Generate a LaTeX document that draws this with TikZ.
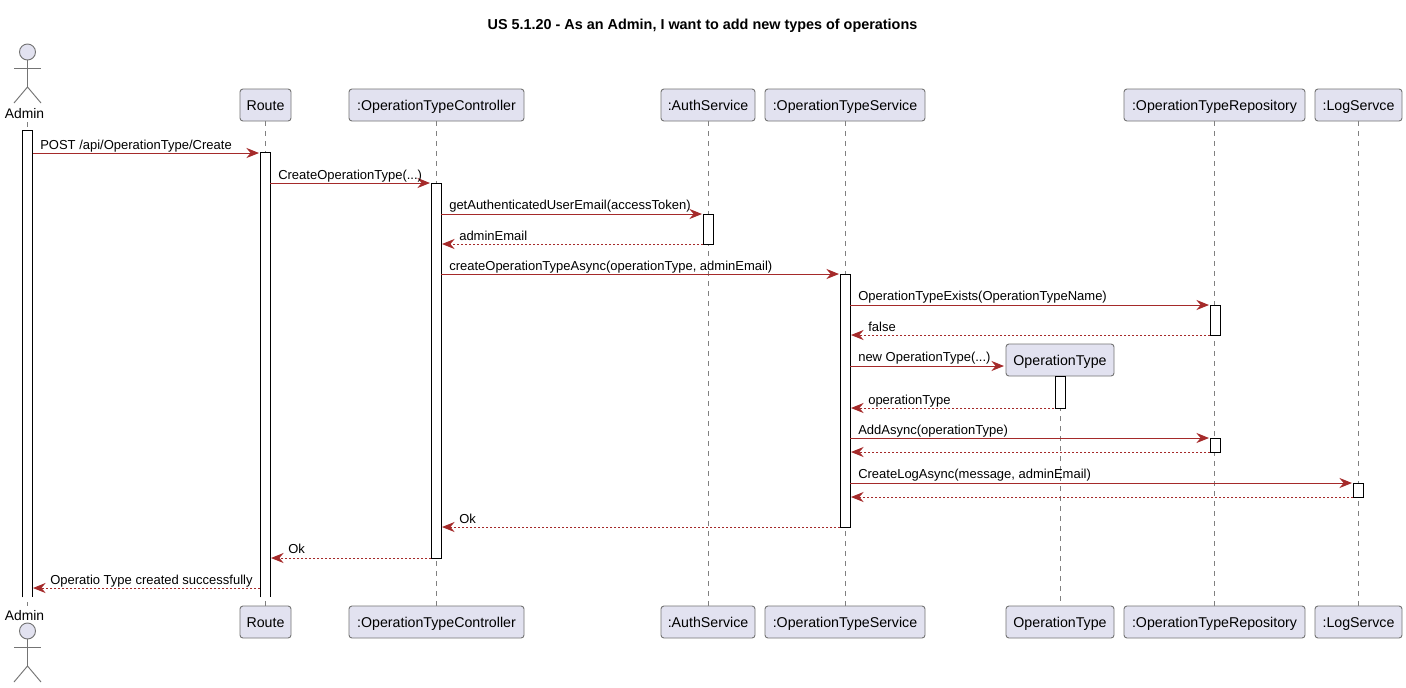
\documentclass[tikz,border=0pt]{standalone}
\usepackage{fontspec}
\setmainfont{Liberation Sans}
\usetikzlibrary{arrows.meta}
\definecolor{pfill}{HTML}{E2E2F0}
\definecolor{pline}{HTML}{181818}
\definecolor{msgcol}{HTML}{A52A2A}
\tikzset{
  x=0.75pt,y=-0.75pt,
  pbox/.style={draw=pline!60,line width=0.7pt,fill=pfill,rounded corners=2.2pt,minimum height=24pt,inner sep=0pt,text height=9.5pt,text depth=2pt,font=\fontsize{10.65pt}{12pt}\selectfont},
  life/.style={draw=pline!55,line width=0.5pt,dash pattern=on 3.75pt off 3.75pt},
  actbox/.style={draw=black,line width=0.7pt,fill=white,inner sep=0pt,minimum width=7.5pt},
  openbox/.style={fill=white,inner sep=0pt,minimum width=7.5pt},
  openedge/.style={draw=black,line width=0.7pt},
  callmsg/.style={draw=msgcol,line width=0.75pt,-{Stealth[length=9.5pt,width=7.6pt,inset=3.2pt,color=msgcol]}},
  retmsg/.style={callmsg,dash pattern=on 1.5pt off 1.5pt},
  msgtext/.style={anchor=base west,inner sep=0pt,font=\fontsize{9.75pt}{11pt}\selectfont,text=black},
  actorpart/.style={draw=pline!60,line width=0.7pt},
  actorhead/.style={actorpart,fill=pfill},
  actorlabel/.style={inner sep=0pt,font=\fontsize{10.4pt}{12pt}\selectfont}
}
% name, x, top y, bottom y, style
\newcommand{\actbar}[5]{\node[#5,minimum height={(#4-#3)*0.75pt}] (#1) at (#2,{(#3+#4)/2}) {};}
% name, from x, to x, y, style
\newcommand{\msgline}[5]{\coordinate (#1a) at (#2,#4);\coordinate (#1b) at (#3,#4);\draw[#5] (#1a) -- (#1b);}
% centre x, head centre y, name
\newcommand{\stickman}[3]{%
  \node[actorhead,circle,minimum size=12pt,inner sep=0pt] (#3h) at (#1,#2) {};
  \coordinate (#3w) at (#1,#2+35);
  \coordinate (#3al) at (#1-13.5,#2+16);
  \coordinate (#3ar) at (#1+13.5,#2+16);
  \coordinate (#3ll) at (#1-13.5,#2+51);
  \coordinate (#3lr) at (#1+13.5,#2+51);
  \draw[actorpart] (#3h.south) -- (#3w);
  \draw[actorpart] (#3al) -- (#3ar);
  \draw[actorpart] (#3ll) -- (#3w) -- (#3lr);
}
\begin{document}
\begin{tikzpicture}
\useasboundingbox[fill=white] (0,0) rectangle (1406,687);
\node[font=\bfseries\fontsize{10.8pt}{12pt}\selectfont,inner sep=0pt] (title) at (702.5,26) {US 5.1.20 - As an Admin, I want to add new types of operations};

% participants, top
\node[pbox,minimum width=38.25pt] (routeT) at (265.5,105) {Route};
\node[pbox,minimum width=131.25pt] (ctrlT) at (436.5,105) {:OperationTypeController};
\node[pbox,minimum width=70.5pt] (authT) at (708,105) {:AuthService};
\node[pbox,minimum width=120pt] (svcT) at (845,105) {:OperationTypeService};
\node[pbox,minimum width=81pt] (typeT) at (1060,360) {OperationType};
\node[pbox,minimum width=135.75pt] (repoT) at (1214.5,105) {:OperationTypeRepository};
\node[pbox,minimum width=65.25pt] (logT) at (1358.5,105) {:LogServce};
% participants, bottom
\node[pbox,minimum width=38.25pt] (routeB) at (265.5,622) {Route};
\node[pbox,minimum width=131.25pt] (ctrlB) at (436.5,622) {:OperationTypeController};
\node[pbox,minimum width=70.5pt] (authB) at (708,622) {:AuthService};
\node[pbox,minimum width=120pt] (svcB) at (845,622) {:OperationTypeService};
\node[pbox,minimum width=81pt] (typeB) at (1060,622) {OperationType};
\node[pbox,minimum width=135.75pt] (repoB) at (1214.5,622) {:OperationTypeRepository};
\node[pbox,minimum width=65.25pt] (logB) at (1358.5,622) {:LogServce};
% actor
\node[actorlabel] (adminT) at (24.5,114) {Admin};
\node[actorlabel] (adminB) at (24.5,616) {Admin};
\stickman{27.5}{52}{ta}
\stickman{27.5}{631}{ba}

% lifelines
\coordinate (adminTop) at (27.5,122);
\coordinate (adminBot) at (27.5,606);
\draw[life] (adminTop) -- (adminBot);
\draw[life] (routeT.south) -- (routeB.north);
\draw[life] (ctrlT.south) -- (ctrlB.north);
\draw[life] (authT.south) -- (authB.north);
\draw[life] (svcT.south) -- (svcB.north);
\draw[life] (typeT.south) -- (typeB.north);
\draw[life] (repoT.south) -- (repoB.north);
\draw[life] (logT.south) -- (logB.north);

% activations
\actbar{aAdmin}{27.5}{131}{597}{openbox}
\draw[openedge] (aAdmin.south west) |- (aAdmin.north east) -- (aAdmin.south east);
\actbar{aRoute}{265.5}{153}{597}{openbox}
\draw[openedge] (aRoute.south west) |- (aRoute.north east) -- (aRoute.south east);
\actbar{aCtrl}{436}{183}{558}{actbox}
\actbar{aAuth}{708}{214}{244}{actbox}
\actbar{aSvc}{845}{274}{527}{actbox}
\actbar{aRepoA}{1215}{305}{335}{actbox}
\actbar{aType}{1060}{376}{408}{actbox}
\actbar{aRepoB}{1215}{438}{452}{actbox}
\actbar{aLog}{1358.5}{483}{497}{actbox}

% messages
\msgline{m1}{33}{259}{153}{callmsg}
\node[msgtext] (t1) at (40,149) {POST /api/OperationType/Create};
\msgline{m2}{270}{430}{183}{callmsg}
\node[msgtext] (t2) at (278,179) {CreateOperationType(...)};
\msgline{m3}{441}{702}{214}{callmsg}
\node[msgtext] (t3) at (449,209) {getAuthenticatedUserEmail(accessToken)};
\msgline{m4}{703}{442}{244}{retmsg}
\node[msgtext] (t4) at (459,240) {adminEmail};
\msgline{m5}{441}{839}{274}{callmsg}
\node[msgtext] (t5) at (449,270) {createOperationTypeAsync(operationType, adminEmail)};
\msgline{m6}{850}{1209}{305}{callmsg}
\node[msgtext] (t6) at (858,300) {OperationTypeExists(OperationTypeName)};
\msgline{m7}{1210}{851}{335}{retmsg}
\node[msgtext] (t7) at (868,331) {false};
\msgline{m8}{850}{1004}{366}{callmsg}
\node[msgtext] (t8) at (858,361) {new OperationType(...)};
\msgline{m9}{1054}{851}{408}{retmsg}
\node[msgtext] (t9) at (868,404) {operationType};
\msgline{m10}{850}{1209}{438}{callmsg}
\node[msgtext] (t10) at (858,434) {AddAsync(operationType)};
\msgline{m11}{1210}{851}{452}{retmsg}
\msgline{m12}{850}{1352}{483}{callmsg}
\node[msgtext] (t12) at (858,478) {CreateLogAsync(message, adminEmail)};
\msgline{m13}{1353}{851}{497}{retmsg}
\msgline{m14}{840}{442}{527}{retmsg}
\node[msgtext] (t14) at (459,523) {Ok};
\msgline{m15}{431}{271}{558}{retmsg}
\node[msgtext] (t15) at (288,553) {Ok};
\msgline{m16}{260}{33}{588}{retmsg}
\node[msgtext] (t16) at (50,584) {Operatio Type created successfully};
\end{tikzpicture}
\end{document}
